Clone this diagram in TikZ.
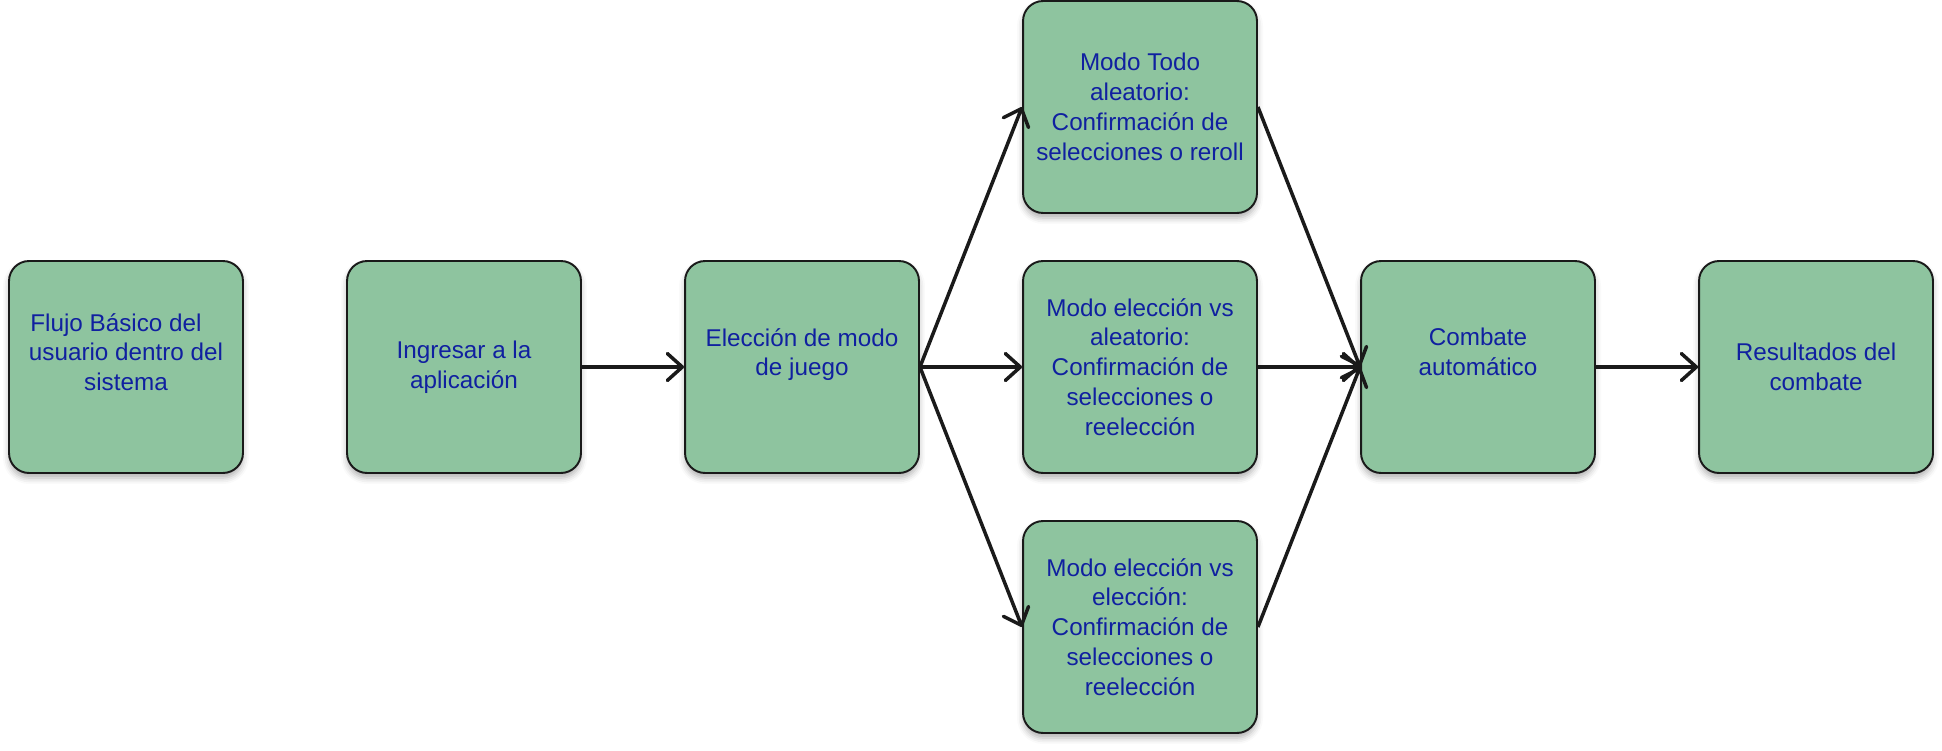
\documentclass[tikz,border=0pt]{standalone}
\usepackage{fontspec}
\setmainfont{Liberation Sans}
\usetikzlibrary{arrows.meta,shadows.blur}
\definecolor{verdecaja}{HTML}{8EC49F}
\definecolor{azultexto}{HTML}{1020A0}
\definecolor{negrolinea}{HTML}{1A1A1A}
\tikzset{
  paso/.style={draw=negrolinea, line width=1.1pt, fill=verdecaja, rounded corners=0.4cm,
    minimum width=4.68cm, minimum height=4.24cm, align=center, text=azultexto,
    font=\fontsize{13.8}{17}\selectfont,
    blur shadow={shadow xshift=0pt, shadow yshift=-0.1cm, shadow blur radius=0.12cm, shadow opacity=30}},
  flecha/.style={draw=negrolinea, line width=2pt, -{Straight Barb[length=0.3cm,width=0.54cm,round]}}
}
\begin{document}
\begin{tikzpicture}[x=0.02cm,y=-0.02cm]
  \useasboundingbox (0,0) rectangle (1942,750);
  % fila central
  \node[paso] (flujo) at (126,367) {Flujo Básico del\hspace*{0.4cm}\\usuario dentro del\\sistema\\~};
  \node[paso] (ingresar) at (464,367) {Ingresar a la\\aplicación};
  \node[paso] (eleccion) at (802,367) {Elección de modo\\de juego\\~};
  % modos de juego
  \node[paso] (todo) at (1140,107) {Modo Todo\\aleatorio:\\Confirmación de\\selecciones o reroll};
  \node[paso] (vsaleat) at (1140,367) {Modo elección vs\\aleatorio:\\Confirmación de\\selecciones o\\reelección};
  \node[paso] (vselec) at (1140,627) {Modo elección vs\\elección:\\Confirmación de\\selecciones o\\reelección};
  \node[paso] (combate) at (1478,367) {Combate\\automático\\~};
  \node[paso] (resultados) at (1816,367) {Resultados del\\combate};
  % flechas
  \draw[flecha] (ingresar.east) -- (eleccion.west);
  \draw[flecha] (eleccion.east) -- (todo.west);
  \draw[flecha] (eleccion.east) -- (vsaleat.west);
  \draw[flecha] (eleccion.east) -- (vselec.west);
  \draw[flecha] (todo.east) -- (combate.west);
  \draw[flecha] (vsaleat.east) -- (combate.west);
  \draw[flecha] (vselec.east) -- (combate.west);
  \draw[flecha] (combate.east) -- (resultados.west);
\end{tikzpicture}
\end{document}
